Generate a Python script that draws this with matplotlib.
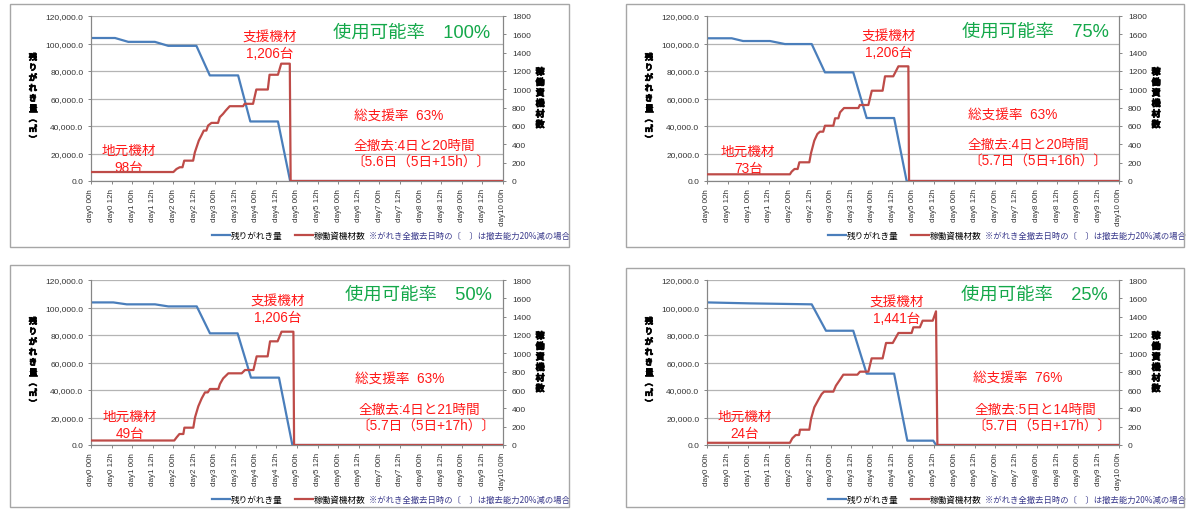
import matplotlib
matplotlib.use('Agg')
import matplotlib.pyplot as plt
import matplotlib.patheffects as pe
from matplotlib.patches import Rectangle
from matplotlib.lines import Line2D

plt.rcParams['font.family'] = ['Liberation Sans', 'Noto Sans CJK JP', 'DejaVu Sans']

W, H = 1195, 510

# x axis: hours from day0 00h to day10 00h
tick_hours = list(range(0, 241, 12))
tick_labels = [f"day{h // 24} {h % 24:02d}h" for h in tick_hours]
left_ticks = [0, 20000, 40000, 60000, 80000, 100000, 120000]
right_ticks = list(range(0, 1801, 200))

# --- 使用可能率 100% ---
tl_blue_h = [0, 14, 21.7, 37.2, 45, 61.4, 69.2, 85.7, 92.8, 108.9, 116, 240]
tl_blue_v = [104000, 104000, 101200, 101200, 98300, 98300, 76800, 76800, 43300, 43300, 0, 0]
tl_red_h = [0, 48, 49.8, 51.7, 53.3, 54.3, 59.5, 60.5, 62.8, 64.3, 65.7, 67.2, 68.2, 70.2, 74, 75,
            76.9, 78.5, 80.8, 88.6, 89.5, 94.4, 96.3, 103, 104, 108.9, 110.8, 115.8, 116.3, 240]
tl_red_v = [98, 98, 131, 150, 150, 222, 222, 313, 441, 496, 550, 550, 605, 634, 634, 696,
            732, 769, 816, 816, 842, 842, 998, 998, 1159, 1159, 1280, 1280, 0, 0]

# --- 使用可能率 75% ---
tr_blue_h = [0, 14.4, 21, 36.7, 45.4, 61, 68.7, 85.2, 93, 109, 116.3, 240]
tr_blue_v = [103800, 103800, 101800, 101800, 99600, 99600, 79000, 79000, 45800, 45800, 0, 0]
tr_red_h = [0, 48.3, 49.3, 51, 52.8, 53.8, 59.6, 60.6, 62.5, 64.3, 65.8, 67.7, 68.7, 73.6, 74.6,
            76.5, 77.5, 79.8, 88.2, 89, 94, 96, 102.3, 103.7, 108.5, 111.5, 117.3, 117.7, 240]
tr_red_v = [73, 73, 102, 131, 131, 204, 204, 305, 440, 513, 538, 538, 603, 603, 684,
            684, 749, 796, 796, 829, 829, 985, 985, 1142, 1142, 1251, 1251, 0, 0]

# --- 使用可能率 50% ---
bl_blue_h = [0, 13, 20.8, 37.3, 45, 61.6, 69.3, 85.4, 93.2, 109.5, 117.3, 240]
bl_blue_v = [103700, 103700, 102300, 102300, 100800, 100800, 81200, 81200, 49000, 49000, 0, 0]
bl_red_h = [0, 48.5, 49.9, 51.5, 53.8, 54.4, 59.6, 60.6, 62.5, 64.5, 66.4, 68, 69.3, 74.2, 75.1,
            77, 80, 87.8, 89.7, 94.6, 96.5, 102.9, 104.3, 108.7, 111, 117.9, 118.3, 240]
bl_red_v = [49, 49, 84, 120, 120, 189, 189, 302, 422, 509, 574, 574, 611, 611, 665,
            727, 782, 782, 818, 818, 967, 967, 1131, 1131, 1236, 1236, 0, 0]

# --- 使用可能率 25% ---
br_blue_h = [0, 25, 61, 69.3, 85.2, 93, 109, 116.7, 131.8, 133.4, 240]
br_blue_v = [103700, 103000, 102300, 83100, 83100, 51900, 51900, 3150, 3150, 0, 0]
br_red_h = [0, 48.3, 49.7, 51.7, 53.6, 54.2, 59.6, 60.6, 62.5, 64.9, 66.8, 68.2, 73.6, 75.1, 77.1,
            79.4, 87.6, 89.1, 94, 95.9, 102.3, 104.3, 108.2, 111.5, 119.2, 120.2, 124, 125.6,
            131.5, 133.4, 134.2, 240]
br_red_v = [24, 24, 73, 109, 109, 167, 167, 284, 411, 494, 556, 582, 582, 647, 702,
            767, 767, 800, 800, 945, 945, 1113, 1113, 1222, 1222, 1284, 1284, 1356,
            1356, 1458, 0, 0]

rates = ['100%', '75%', '50%', '25%']
local_units = ['98台', '73台', '49台', '24台']
support_units = ['1,206台', '1,206台', '1,206台', '1,441台']
support_ratio = ['63%', '63%', '63%', '76%']
clear_time = ['全撤去:4日と20時間', '全撤去:4日と20時間', '全撤去:4日と21時間', '全撤去:5日と14時間']
clear_reduced = ['〔5.6日（5日+15h）〕', '〔5.7日（5日+16h）〕', '〔5.7日（5日+17h）〕', '〔5.7日（5日+17h）〕']

# layout in pixels: panel box (x0, y0, x1, y1), plot area (left, top, right, bottom)
boxes = [(10, 5, 569, 248), (626, 5, 1184, 248), (10, 266, 569, 508), (626, 269, 1184, 508)]
plots = [(91, 17, 503, 182), (707, 17, 1119, 182), (91, 281, 503, 446), (707, 281, 1119, 446)]
# annotation positions (axes fractions)
sup_xy = [(0.434, 0.873), (0.44, 0.88), (0.454, 0.873), (0.461, 0.867)]
loc_xy = [(0.092, 0.188), (0.10, 0.182), (0.095, 0.176), (0.092, 0.176)]
green_xy = [(0.777, 0.903), (0.796, 0.91), (0.794, 0.915), (0.794, 0.915)]
ratio_xy = [(0.748, 0.394), (0.743, 0.40), (0.75, 0.40), (0.755, 0.406)]
time_xy = [(0.784, 0.218), (0.779, 0.224), (0.796, 0.218), (0.797, 0.218)]
red_xy = [(0.80, 0.115), (0.803, 0.121), (0.813, 0.115), (0.813, 0.115)]

series = [(tl_blue_h, tl_blue_v, tl_red_h, tl_red_v),
          (tr_blue_h, tr_blue_v, tr_red_h, tr_red_v),
          (bl_blue_h, bl_blue_v, bl_red_h, bl_red_v),
          (br_blue_h, br_blue_v, br_red_h, br_red_v)]

BLUE = '#4A7EBB'
RED = '#BE4B48'
TXT_RED = '#FF1A1A'
GREEN = '#14A84A'
GRID = '#B4B4B4'
AXC = '#868686'
LBL = '#333333'
JP = ['Noto Sans CJK JP', 'DejaVu Sans']
bold_fx = [pe.withStroke(linewidth=0.5, foreground='black')]

fig = plt.figure(figsize=(W / 100, H / 100), dpi=100)

for i in range(4):
    bx0, by0, bx1, by1 = boxes[i]
    fig.add_artist(Rectangle((bx0 / W, 1 - by1 / H), (bx1 - bx0) / W, (by1 - by0) / H,
                             transform=fig.transFigure, fill=False, edgecolor='#A6A6A6', lw=1))
    pl, pt, pr, pb = plots[i]
    ax = fig.add_axes([pl / W, 1 - pb / H, (pr - pl) / W, (pb - pt) / H])
    ax2 = ax.twinx()
    bh, bv, rh, rv = series[i]
    ax.plot(bh, bv, color=BLUE, lw=1.6, zorder=3)
    ax2.plot(rh, rv, color=RED, lw=1.6, zorder=3)

    ax.set_xlim(0, 240)
    ax.set_ylim(0, 120000)
    ax2.set_ylim(0, 1800)
    ax.set_xticks(tick_hours)
    ax.set_xticklabels(tick_labels, rotation=90, fontsize=5.8, color=LBL)
    ax.set_yticks(left_ticks)
    ax.set_yticklabels([f"{v:,.1f}" for v in left_ticks], fontsize=6, color=LBL)
    ax2.set_yticks(right_ticks)
    ax2.set_yticklabels([str(v) for v in right_ticks], fontsize=6, color=LBL)
    ax.grid(axis='y', color=GRID, lw=0.9)
    ax.set_axisbelow(True)
    for a in (ax, ax2):
        a.spines['top'].set_visible(False)
        for s in ('left', 'right', 'bottom'):
            a.spines[s].set_color(AXC)
            a.spines[s].set_linewidth(0.8)
        a.tick_params(length=2.5, width=0.7, color=AXC, pad=2.5)
    ax2.tick_params(axis='y', pad=4)
    ax.tick_params(axis='y', pad=3)
    ax.tick_params(axis='x', pad=2.5)

    # stacked axis titles
    ax.text(-0.141, 0.5, '\n'.join('残りがれき量︵㎥︶'), transform=ax.transAxes,
            ha='center', va='center', fontsize=6, fontweight='bold', family=JP,
            linespacing=1.18, color='black', path_effects=bold_fx)
    ax.text(1.09, 0.5, '\n'.join('稼働資機材数'), transform=ax.transAxes,
            ha='center', va='center', fontsize=6.5, fontweight='bold', family=JP,
            linespacing=1.22, color='black', path_effects=bold_fx)

    # annotations
    ax.text(sup_xy[i][0], sup_xy[i][1], '支援機材', transform=ax.transAxes, ha='center',
            va='center', fontsize=9.8, color=TXT_RED)
    ax.text(sup_xy[i][0], sup_xy[i][1] - 0.1, support_units[i], transform=ax.transAxes,
            ha='center', va='center', fontsize=9.8, color=TXT_RED)
    ax.text(loc_xy[i][0], loc_xy[i][1], '地元機材', transform=ax.transAxes, ha='center',
            va='center', fontsize=9.8, color=TXT_RED)
    ax.text(loc_xy[i][0], loc_xy[i][1] - 0.103, local_units[i], transform=ax.transAxes,
            ha='center', va='center', fontsize=9.8, color=TXT_RED)
    ax.text(green_xy[i][0], green_xy[i][1], '使用可能率　' + rates[i], transform=ax.transAxes,
            ha='center', va='center', fontsize=13.2, color=GREEN)
    ax.text(ratio_xy[i][0], ratio_xy[i][1], '総支援率  ' + support_ratio[i], transform=ax.transAxes,
            ha='center', va='center', fontsize=9.8, color=TXT_RED)
    ax.text(time_xy[i][0], time_xy[i][1], clear_time[i], transform=ax.transAxes,
            ha='center', va='center', fontsize=9.8, color=TXT_RED)
    ax.text(red_xy[i][0], red_xy[i][1], clear_reduced[i], transform=ax.transAxes,
            ha='center', va='center', fontsize=9.8, color=TXT_RED)

    # legend row below the plot
    ly = -54 / (pb - pt)
    pw = pr - pl
    ax.add_line(Line2D([121 / pw, 139 / pw], [ly, ly], color=BLUE, lw=1.6,
                       transform=ax.transAxes, clip_on=False))
    ax.text(140 / pw, ly, '残りがれき量', transform=ax.transAxes, ha='left', va='center',
            fontsize=6.2, color='black', family=JP)
    ax.add_line(Line2D([204 / pw, 222 / pw], [ly, ly], color=RED, lw=1.6,
                       transform=ax.transAxes, clip_on=False))
    ax.text(223 / pw, ly, '稼働資機材数', transform=ax.transAxes, ha='left', va='center',
            fontsize=6.2, color='black', family=JP)
    ax.text(278 / pw, ly, '※がれき全撤去日時の〔　〕は撤去能力20%減の場合', transform=ax.transAxes,
            ha='left', va='center', fontsize=6.0, color='#3A3A8C', family=JP)

fig.savefig('out.png', dpi=100)
plt.close(fig)
